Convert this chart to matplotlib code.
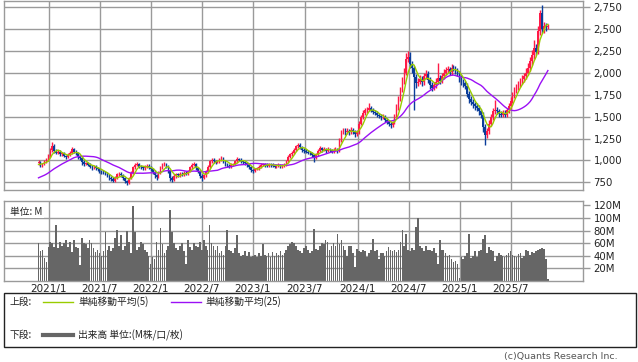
import matplotlib
matplotlib.use("Agg")
import matplotlib.pyplot as plt
import numpy as np
import pandas as pd
from matplotlib.lines import Line2D
from matplotlib.patches import Rectangle

# weekly bars (week starting monday)
first_week = "2020-11-23"

# 24 weeks before the first bar, only needed to warm up the 25w average
closes_prior = [710, 720, 730, 710, 700, 720, 740, 730, 750, 760, 740, 730,
                750, 770, 760, 780, 790, 850, 900, 920, 940, 930, 950, 970]

opens = [
    970, 980, 950, 960, 990, 1010, 1050, 1120, 1170, 1110,
    1090, 1100, 1070, 1080, 1050, 1040, 1060, 1090, 1130, 1100,
    1080, 1040, 1030, 980, 960, 970, 950, 930, 920, 930,
    910, 900, 880, 870, 860, 850, 830, 800, 790, 770,
    800, 840, 850, 830, 800, 760, 740, 800, 860, 920,
    950, 960, 930, 920, 910, 930, 940, 920, 900, 870,
    830, 810, 860, 920, 950, 960, 930, 880, 800, 780,
    820, 840, 830, 850, 840, 860, 850, 880, 920, 950,
    960, 910, 880, 820, 800, 830, 870, 930, 990, 1010,
    990, 980, 990, 1010, 1030, 990, 960, 940, 930, 950,
    960, 990, 1020, 1010, 990, 980, 970, 950, 920, 890,
    880, 900, 910, 930, 950, 960, 950, 940, 960, 950,
    940, 930, 940, 950, 930, 940, 950, 990, 1040, 1070,
    1090, 1120, 1160, 1180, 1150, 1120, 1110, 1100, 1090, 1080,
    1060, 1030, 1070, 1110, 1140, 1120, 1130, 1110, 1130, 1120,
    1100, 1120, 1130, 1110, 1230, 1320, 1340, 1320, 1340, 1320,
    1350, 1330, 1300, 1320, 1420, 1490, 1540, 1570, 1580, 1600,
    1580, 1550, 1540, 1520, 1510, 1490, 1500, 1460, 1440, 1420,
    1400, 1430, 1500, 1600, 1700, 1800, 1900, 2000, 2160, 2180,
    2100, 2050, 1950, 1880, 1900, 1930, 1890, 1960, 1990, 1920,
    1860, 1830, 1860, 1900, 1940, 1910, 1960, 2000, 2030, 2040,
    2010, 2060, 2050, 2020, 1990, 1940, 1900, 1880, 1850, 1760,
    1700, 1670, 1640, 1620, 1600, 1560, 1520, 1380, 1290, 1330,
    1420, 1490, 1560, 1580, 1560, 1530, 1520, 1540, 1520, 1570,
    1620, 1680, 1740, 1800, 1830, 1870, 1900, 1930, 1960, 2000,
    2060, 2130, 2200, 2280, 2240, 2480, 2680, 2500, 2530, 2520,
]

highs = [
    1000, 995, 975, 1005, 1030, 1070, 1140, 1210, 1185, 1130,
    1120, 1115, 1100, 1095, 1065, 1080, 1105, 1150, 1145, 1115,
    1095, 1060, 1045, 1000, 985, 985, 965, 950, 945, 945,
    925, 915, 895, 885, 880, 865, 845, 820, 805, 820,
    860, 870, 865, 845, 815, 780, 815, 880, 940, 975,
    985, 975, 945, 935, 945, 955, 955, 935, 915, 890,
    850, 880, 940, 970, 980, 975, 945, 895, 820, 840,
    855, 855, 865, 865, 875, 875, 895, 935, 965, 980,
    975, 925, 895, 840, 845, 885, 945, 1010, 1030, 1025,
    1005, 1005, 1025, 1045, 1040, 1005, 975, 955, 965, 975,
    1010, 1035, 1030, 1025, 1005, 995, 985, 965, 935, 905,
    915, 925, 945, 965, 975, 975, 965, 975, 970, 965,
    955, 955, 965, 960, 955, 965, 1005, 1060, 1090, 1110,
    1140, 1180, 1200, 1195, 1165, 1140, 1125, 1115, 1105, 1095,
    1075, 1090, 1130, 1160, 1155, 1150, 1145, 1150, 1145, 1135,
    1140, 1150, 1145, 1260, 1350, 1370, 1365, 1370, 1360, 1380,
    1370, 1350, 1345, 1450, 1520, 1570, 1600, 1610, 1650, 1625,
    1600, 1575, 1560, 1545, 1530, 1525, 1520, 1480, 1460, 1440,
    1455, 1530, 1640, 1740, 1840, 1950, 2060, 2230, 2250, 2240,
    2140, 2080, 1990, 1940, 1970, 1960, 2000, 2030, 2020, 1950,
    1890, 1890, 1940, 2110, 1980, 2000, 2040, 2070, 2080, 2070,
    2100, 2090, 2080, 2050, 2020, 1970, 1930, 1910, 1880, 1790,
    1730, 1700, 1670, 1650, 1630, 1590, 1550, 1420, 1370, 1460,
    1530, 1600, 1690, 1610, 1590, 1560, 1570, 1570, 1600, 1660,
    1720, 1780, 1840, 1870, 1910, 1940, 1970, 2000, 2050, 2110,
    2180, 2260, 2370, 2330, 2540, 2720, 2770, 2580, 2570, 2560,
]

lows = [
    950, 930, 930, 945, 975, 995, 1035, 1100, 1090, 1070,
    1075, 1050, 1055, 1035, 1020, 1025, 1045, 1075, 1080, 1060,
    1020, 1010, 950, 935, 945, 935, 910, 895, 905, 890,
    880, 860, 850, 840, 830, 810, 780, 770, 750, 755,
    785, 825, 810, 780, 740, 720, 725, 785, 845, 905,
    935, 910, 900, 895, 895, 915, 900, 880, 850, 800,
    780, 795, 845, 905, 935, 910, 860, 770, 750, 765,
    800, 810, 815, 825, 825, 830, 835, 865, 905, 935,
    890, 860, 800, 760, 785, 815, 855, 915, 975, 970,
    960, 965, 975, 995, 970, 940, 920, 910, 915, 935,
    945, 975, 995, 970, 960, 950, 930, 900, 865, 860,
    865, 885, 895, 915, 935, 930, 920, 925, 930, 920,
    910, 915, 925, 910, 915, 925, 935, 975, 1025, 1055,
    1075, 1105, 1145, 1130, 1100, 1090, 1080, 1070, 1060, 1040,
    985, 1015, 1055, 1095, 1100, 1105, 1090, 1095, 1100, 1080,
    1085, 1105, 1090, 1095, 1210, 1300, 1295, 1300, 1295, 1300,
    1305, 1270, 1280, 1300, 1400, 1470, 1520, 1545, 1560, 1555,
    1525, 1515, 1495, 1485, 1465, 1470, 1435, 1415, 1395, 1370,
    1380, 1410, 1480, 1580, 1680, 1780, 1870, 1970, 2120, 2060,
    2000, 1575, 1830, 1850, 1870, 1850, 1860, 1930, 1880, 1820,
    1790, 1800, 1830, 1870, 1870, 1880, 1930, 1970, 2000, 1980,
    1980, 2020, 1990, 1960, 1900, 1860, 1840, 1810, 1720, 1650,
    1630, 1600, 1580, 1560, 1520, 1480, 1320, 1175, 1260, 1300,
    1390, 1460, 1530, 1530, 1500, 1490, 1490, 1490, 1495, 1540,
    1590, 1650, 1710, 1770, 1800, 1840, 1870, 1900, 1930, 1970,
    2020, 2090, 2160, 2200, 2210, 2430, 2450, 2460, 2480, 2500,
]

closes = [
    980, 950, 960, 990, 1010, 1050, 1120, 1170, 1110, 1090,
    1100, 1070, 1080, 1050, 1040, 1060, 1090, 1130, 1100, 1080,
    1040, 1030, 980, 960, 970, 950, 930, 920, 930, 910,
    900, 880, 870, 860, 850, 830, 800, 790, 770, 800,
    840, 850, 830, 800, 760, 740, 800, 860, 920, 950,
    960, 930, 920, 910, 930, 940, 920, 900, 870, 830,
    810, 860, 920, 950, 960, 930, 880, 800, 780, 820,
    840, 830, 850, 840, 860, 850, 880, 920, 950, 960,
    910, 880, 820, 800, 830, 870, 930, 990, 1010, 990,
    980, 990, 1010, 1030, 990, 960, 940, 930, 950, 960,
    990, 1020, 1010, 990, 980, 970, 950, 920, 890, 880,
    900, 910, 930, 950, 960, 950, 940, 960, 950, 940,
    930, 940, 950, 930, 940, 950, 990, 1040, 1070, 1090,
    1120, 1160, 1180, 1150, 1120, 1110, 1100, 1090, 1080, 1060,
    1030, 1070, 1110, 1140, 1120, 1130, 1110, 1130, 1120, 1100,
    1120, 1130, 1110, 1230, 1320, 1340, 1320, 1340, 1320, 1350,
    1330, 1300, 1320, 1420, 1490, 1540, 1570, 1580, 1600, 1580,
    1550, 1540, 1520, 1510, 1490, 1500, 1460, 1440, 1420, 1400,
    1430, 1500, 1600, 1700, 1800, 1900, 2000, 2160, 2180, 2100,
    2050, 1950, 1880, 1900, 1930, 1890, 1960, 1990, 1920, 1860,
    1830, 1860, 1900, 1940, 1910, 1960, 2000, 2030, 2040, 2010,
    2060, 2050, 2020, 1990, 1940, 1900, 1880, 1850, 1760, 1700,
    1670, 1640, 1620, 1600, 1560, 1520, 1380, 1290, 1330, 1420,
    1490, 1560, 1580, 1560, 1530, 1520, 1540, 1520, 1570, 1620,
    1680, 1740, 1800, 1830, 1870, 1900, 1930, 1960, 2000, 2060,
    2130, 2200, 2280, 2240, 2480, 2680, 2500, 2530, 2520, 2540,
]

# volume, M shares
volume = [
    60, 48, 49, 37, 30, 54, 62, 61, 54, 89,
    53, 62, 55, 60, 65, 54, 62, 46, 65, 54,
    52, 25, 69, 60, 59, 53, 65, 60, 52, 46,
    50, 45, 40, 48, 78, 50, 55, 47, 52, 68,
    81, 56, 73, 50, 55, 80, 62, 45, 119, 77,
    50, 54, 62, 58, 50, 46, 40, 27, 38, 35,
    62, 50, 84, 58, 44, 49, 55, 113, 78, 60,
    52, 50, 55, 60, 48, 27, 65, 54, 50, 60,
    55, 54, 62, 50, 65, 55, 50, 89, 60, 55,
    50, 55, 45, 48, 42, 55, 81, 50, 48, 45,
    52, 73, 45, 40, 42, 48, 40, 46, 38, 40,
    42, 38, 45, 40, 58, 42, 40, 44, 38, 46,
    40, 44, 42, 48, 42, 45, 50, 55, 58, 62,
    60, 55, 50, 48, 45, 52, 55, 50, 45, 48,
    83, 51, 50, 55, 60, 58, 65, 62, 50, 56,
    60, 56, 75, 58, 65, 55, 50, 40, 56, 56,
    45, 22, 51, 48, 46, 50, 47, 38, 45, 50,
    67, 48, 50, 35, 45, 44, 40, 48, 54, 50,
    48, 50, 46, 50, 62, 81, 55, 75, 50, 48,
    52, 50, 86, 100, 56, 52, 48, 55, 50, 50,
    48, 52, 45, 27, 65, 50, 50, 45, 40, 42,
    35, 30, 32, 27, 5, 38, 35, 40, 45, 75,
    36, 40, 48, 38, 48, 50, 67, 73, 45, 54,
    50, 48, 32, 40, 45, 42, 40, 38, 42, 45,
    48, 42, 40, 38, 43, 45, 36, 40, 50, 48,
    42, 46, 45, 48, 50, 51, 52, 51, 35, 3,
]

month_labels = ["2021/1", "2021/7", "2022/1", "2022/7", "2023/1",
                "2023/7", "2024/1", "2024/7", "2025/1", "2025/7"]
price_ticks = [750, 1000, 1250, 1500, 1750, 2000, 2250, 2500, 2750]
vol_ticks = [20, 40, 60, 80, 100, 120]

UP = "#ff1a47"
DOWN = "#0a3d9a"
SMA5_C = "#99cc00"
SMA25_C = "#9b10f5"
GRID = "#9a9a9a"
VOL_C = "#666666"
JP = ["Noto Sans CJK JP", "DejaVu Sans"]

o = np.array(opens, float)
h = np.array(highs, float)
l = np.array(lows, float)
c = np.array(closes, float)
v = np.array(volume, float)
x = np.arange(len(c))

dates = pd.date_range(first_week, periods=len(c), freq="W-MON")
tick_pos = [dates.searchsorted(pd.Timestamp(m.replace("/", "-") + "-01"), side="right") - 1
            for m in month_labels]

allc = pd.Series(closes_prior + closes, dtype=float)
n0 = len(closes_prior)
sma5 = allc.rolling(5).mean().values[n0:]
sma25 = allc.rolling(25).mean().values[n0:]

W, H = 638, 362
fig = plt.figure(figsize=(W / 100, H / 100), dpi=100)

def fx(px):
    return px / W

def fy(py):
    return 1 - py / H

xlim = (-17.8, 276.6)

# price panel
ax = fig.add_axes([fx(3.5), fy(190), fx(579), (190 - 1) / H])
ax.set_xlim(*xlim)
ax.set_ylim(662, 2820)
for p in tick_pos:
    ax.axvline(p + 0.3, color=GRID, lw=1, zorder=0)
for t in price_ticks:
    ax.axhline(t, color=GRID, lw=1, zorder=0)

up = c >= o
cols = np.where(up, UP, DOWN)
ax.vlines(x, l, h, colors=cols, lw=1, zorder=2)
body = np.maximum(np.abs(c - o), 6)
ax.bar(x, body, bottom=np.minimum(o, c), width=0.8, color=cols, lw=0, zorder=3)
ax.plot(x, sma25, color=SMA25_C, lw=1, zorder=4)
ax.plot(x, sma5, color=SMA5_C, lw=1, zorder=5)

ax.yaxis.tick_right()
ax.set_yticks(price_ticks)
ax.set_yticklabels([f"{t:,}" for t in price_ticks])
ax.tick_params(axis="y", direction="out", length=5, width=1, color=GRID,
               labelsize=7.3, pad=3, labelcolor="#222222")
ax.set_xticks([])
for s in ax.spines.values():
    s.set_color(GRID)
    s.set_linewidth(1)

# volume panel
av = fig.add_axes([fx(3.5), fy(281), fx(579), (281 - 201) / H])
av.set_xlim(*xlim)
av.set_ylim(0, 127)
for p in tick_pos:
    av.axvline(p + 0.3, color=GRID, lw=1, zorder=0)
for t in vol_ticks[:-1]:
    av.axhline(t, color=GRID, lw=1, zorder=0)
av.bar(x, v, width=0.85, color=VOL_C, lw=0, zorder=2)
av.yaxis.tick_right()
av.set_yticks(vol_ticks)
av.set_yticklabels([f"{t}M" for t in vol_ticks])
av.tick_params(axis="y", direction="out", length=5, width=1, color=GRID,
               labelsize=7.3, pad=3, labelcolor="#222222")
av.set_xticks(tick_pos)
av.set_xticklabels(month_labels)
av.tick_params(axis="x", length=0, labelsize=7.5, pad=2, labelcolor="#222222")
for s in av.spines.values():
    s.set_color(GRID)
    s.set_linewidth(1)
av.text(0.012, 0.93, "単位: M", transform=av.transAxes, ha="left", va="top",
        fontsize=7, family=JP, color="#222222", zorder=5,
        bbox=dict(facecolor="white", edgecolor="none", pad=1.2))

# legend box
fig.patches.append(Rectangle((fx(3.5), fy(347)), fx(632), (347 - 293) / H,
                             transform=fig.transFigure, fill=False,
                             edgecolor="#222222", lw=1))
fig.text(fx(10), fy(302), "上段:", fontsize=7, family=JP, va="center", color="#222222")
fig.lines.append(Line2D([fx(43), fx(73)], [fy(302), fy(302)], transform=fig.transFigure,
                        color=SMA5_C, lw=1))
fig.text(fx(78), fy(302), "単純移動平均(5)", fontsize=7, family=JP, va="center", color="#222222")
fig.lines.append(Line2D([fx(171), fx(201)], [fy(302), fy(302)], transform=fig.transFigure,
                        color=SMA25_C, lw=1))
fig.text(fx(205), fy(302), "単純移動平均(25)", fontsize=7, family=JP, va="center", color="#222222")
fig.text(fx(10), fy(335), "下段:", fontsize=7, family=JP, va="center", color="#222222")
fig.lines.append(Line2D([fx(43), fx(73)], [fy(335), fy(335)], transform=fig.transFigure,
                        color=VOL_C, lw=3))
fig.text(fx(78), fy(335), "出来高 単位:(M株/口/枚)", fontsize=7, family=JP, va="center",
         color="#222222")
fig.text(fx(618), fy(356), "(c)Quants Research Inc.", fontsize=6.8, ha="right",
         va="center", color="#555555")

fig.savefig("out.png", dpi=100)
